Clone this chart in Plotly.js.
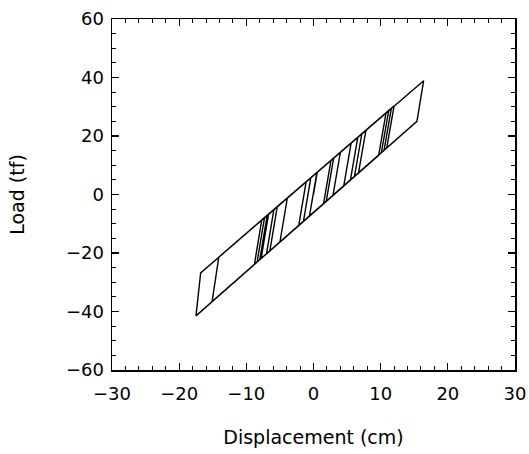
<!DOCTYPE html>
<html>
<head>
<meta charset="utf-8">
<script src="https://cdn.plot.ly/plotly-3.0.1.min.js"></script>
<style>html,body{margin:0;padding:0;background:#fff;}#chart{width:529px;height:454px;}</style>
</head>
<body>
<div id="chart"></div>
<script>
// Displacement (cm) and load (tf) turning points of the hysteresis path
var dispX = [0.0, 0.55, 3.0, 1.9, -1.5, -0.4, 4.0, 2.9, -5.0, -3.9, 5.6, 4.5, -7.0, -5.9,
             7.8, 6.7, -8.0, -6.9, 10.8, 9.7, -8.8, -7.7, 11.6, 10.5, -8.4, -7.3, 11.2, 10.1,
             -7.8, -6.7, 12.0, 10.9,
             -17.5, -16.8, 16.4, 15.4, -15.1, -14.1, 7.2, 6.1, -6.5, -5.4, 2.6, 1.5, -2.2, -1.1,
             6.6, 5.5, -0.6, 0.5, 0.0];
var loadY = [0.0, 7.6, 12.4, -2.3, -9.2, 5.7, 14.4, -0.3, -16.3, -1.2, 17.6, 2.9, -20.3, -5.2,
             21.9, 7.4, -22.3, -7.2, 27.9, 13.4, -23.9, -8.7, 29.5, 15.1, -23.1, -8.0, 28.7, 14.3,
             -21.9, -6.8, 30.3, 15.9,
             -41.5, -26.8, 38.9, 25.0, -36.6, -21.4, 20.8, 6.2, -19.3, -4.2, 11.6, -3.1, -10.6, 4.3,
             19.6, 5.0, -7.4, 7.5, 0.6];

var xTickVals = [-30, -20, -10, 0, 10, 20, 30];
var yTickVals = [-60, -40, -20, 0, 20, 40, 60];
var xTitle = 'Displacement (cm)';
var yTitle = 'Load (tf)';

var trace = {
  x: dispX, y: loadY, type: 'scatter', mode: 'lines',
  line: {color: '#000', width: 1.4}, hoverinfo: 'skip', showlegend: false
};

var fontFam = '"DejaVu Sans", Arial, sans-serif';
var axisCommon = {
  showgrid: false, zeroline: false, showline: true, linecolor: '#000', linewidth: 1.5,
  mirror: 'ticks', ticks: 'inside', ticklen: 7, tickwidth: 1.3, tickcolor: '#000',
  tickfont: {family: fontFam, size: 18, color: '#000'}, fixedrange: true
};

var layout = {
  width: 529, height: 454,
  margin: {l: 112, r: 14, t: 19, b: 84},
  paper_bgcolor: '#fff', plot_bgcolor: '#fff',
  xaxis: Object.assign({}, axisCommon, {
    range: [-30, 30], tickmode: 'array', tickvals: xTickVals,
    ticktext: xTickVals.map(function(v){return v < 0 ? '\u2212' + Math.abs(v) : String(v);}),
    ticklabelstandoff: 7,
    minor: {dtick: 2, tick0: 0, ticks: 'inside', ticklen: 4, tickwidth: 1, tickcolor: '#000', showgrid: false},
    title: {text: xTitle, font: {family: fontFam, size: 19, color: '#000'}, standoff: 27}
  }),
  yaxis: Object.assign({}, axisCommon, {
    range: [-60, 60], tickmode: 'array', tickvals: yTickVals,
    ticktext: yTickVals.map(function(v){return v < 0 ? '\u2212' + Math.abs(v) : String(v);}),
    ticklabelstandoff: 3,
    minor: {dtick: 5, tick0: 0, ticks: 'inside', ticklen: 4, tickwidth: 1, tickcolor: '#000', showgrid: false},
    title: {text: yTitle, font: {family: fontFam, size: 19, color: '#000'}, standoff: 36}
  })
};

Plotly.newPlot('chart', [trace], layout, {displayModeBar: false, staticPlot: true});
</script>
</body>
</html>
